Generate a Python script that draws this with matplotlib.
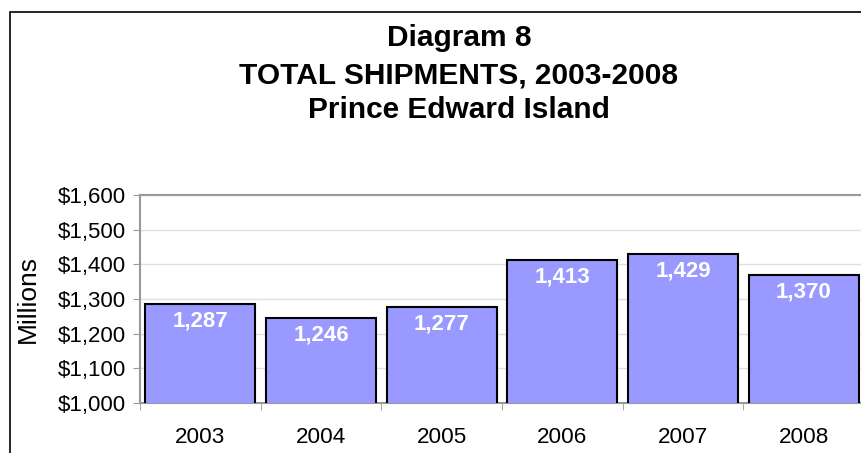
import matplotlib
matplotlib.use("Agg")
import matplotlib.pyplot as plt
from matplotlib.patches import Rectangle
from matplotlib.ticker import FixedLocator, FuncFormatter

years = ["2003", "2004", "2005", "2006", "2007", "2008"]
values = [1287, 1246, 1277, 1413, 1429, 1370]
title_lines = ["Diagram 8", "TOTAL SHIPMENTS, 2003-2008", "Prince Edward Island"]
y_ticks = [1000, 1100, 1200, 1300, 1400, 1500, 1600]

plt.rcParams['font.family'] = ['Liberation Sans', 'DejaVu Sans']

W, H = 862, 453
fig = plt.figure(figsize=(W / 100, H / 100), dpi=100)

# outer chart border (cropped at right and bottom)
fig.patches.append(Rectangle((10 / W, -0.1), 1.2, (H - 12) / H + 0.1, transform=fig.transFigure,
                             fill=False, edgecolor="black", linewidth=1.2))

left, right = 140 / W, 864 / W
bottom, top = (H - 403) / H, (H - 195) / H
ax = fig.add_axes([left, bottom, right - left, top - bottom])

x = list(range(len(years)))
ax.bar(x, values, width=0.91, color="#9999ff", edgecolor="black", linewidth=1.5, zorder=3)
for xi, v in zip(x, values):
    ax.annotate(f"{v:,}", (xi, v), xytext=(0, -17), textcoords="offset pixels",
                ha="center", va="center", color="white",
                fontsize=16, fontweight="bold", zorder=4)

ax.set_xlim(-0.5, len(years) - 0.5)
ax.set_ylim(1000, 1600)
ax.set_yticks(y_ticks)
ax.yaxis.set_major_formatter(FuncFormatter(lambda v, p: f"${int(v):,}"))
ax.set_xticks(x)
ax.set_xticklabels(years)
ax.xaxis.set_minor_locator(FixedLocator([i + 0.5 for i in range(-1, len(years))]))
ax.tick_params(axis="x", which="major", length=0, pad=17, labelsize=16.2)
ax.tick_params(axis="x", which="minor", length=5, color="#999999", direction="out")
ax.tick_params(axis="y", length=5, color="#999999", labelsize=16, pad=5)
ax.grid(axis="y", color="#e0e0e0", linewidth=1, zorder=0)
for s in ax.spines.values():
    s.set_color("#999999")
    s.set_linewidth(1.5)
ax.set_ylabel("Millions", fontsize=19, va="center")
ax.yaxis.set_label_coords((28 - 140) / 724, 0.5)

ys = [38, 76, 110]
for t, yy in zip(title_lines, ys):
    fig.text(459 / W, 1 - yy / H, t, ha="center", va="center", fontsize=21.5, fontweight="bold")

fig.savefig("out.png", dpi=100)
